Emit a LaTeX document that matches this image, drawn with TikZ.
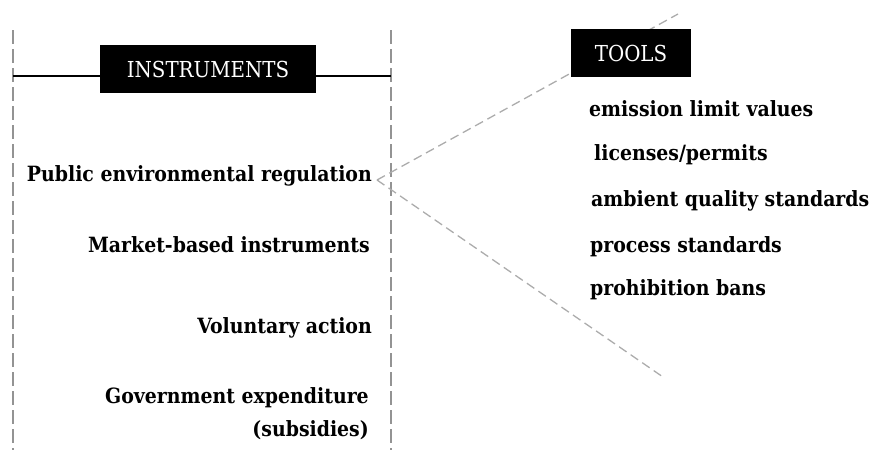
\documentclass[tikz,border=0pt]{standalone}
\usepackage{fontspec}
\setmainfont{DejaVu Serif Condensed}
\begin{document}
\begin{tikzpicture}[x=1pt,y=-1pt,
  gdash/.style={draw=gray!85, line width=1.6pt, dash pattern=on 14pt off 5pt},
  ddash/.style={draw=gray!65, line width=1.3pt, dash pattern=on 9pt off 5pt},
  hdr/.style={fill=black, text=white, inner sep=0pt, font=\fontsize{22}{24}\selectfont},
  item/.style={inner sep=0pt, font=\bfseries\fontsize{21}{33}\selectfont}]
\useasboundingbox (0,0) rectangle (873,450);
\coordinate (lt) at (13,30); \coordinate (lb) at (13,450);
\coordinate (rt) at (391,30); \coordinate (rb) at (391,450);
\draw[gdash] (lt) -- (lb);
\draw[gdash] (rt) -- (rb);
\coordinate (hl) at (13,76); \coordinate (hr) at (391,76);
\node[hdr, minimum width=216pt, minimum height=48pt] (instr) at (208,69) {INSTRUMENTS};
\draw[line width=1.5pt] (hl) -- (hl -| instr.west);
\draw[line width=1.5pt] (hr -| instr.east) -- (hr);
\node[item, anchor=east] (pub) at (372,176) {Public environmental regulation};
\node[item, anchor=east] (mkt) at (370,245) {Market-based instruments};
\node[item, anchor=east] (vol) at (372,328) {Voluntary action};
\node[item, anchor=east, align=right] (gov) at (369,414) {Government expenditure\\(subsidies)};
\coordinate (up) at (678,14);
\coordinate (dn) at (663,377);
\path (pub.east) ++(5,4) coordinate (sp);
\draw[ddash] (sp) -- (up);
\draw[ddash] (sp) -- (dn);
\node[hdr, minimum width=120pt, minimum height=48pt] (tools) at (631,53) {TOOLS};
\node[item, anchor=west] (t1) at (589,109) {emission limit values};
\node[item, anchor=west] (t2) at (594,155) {licenses/permits};
\node[item, anchor=west] (t3) at (591,201) {ambient quality standards};
\node[item, anchor=west] (t4) at (590,247) {process standards};
\node[item, anchor=west] (t5) at (590,290) {prohibition bans};
\end{tikzpicture}
\end{document}
